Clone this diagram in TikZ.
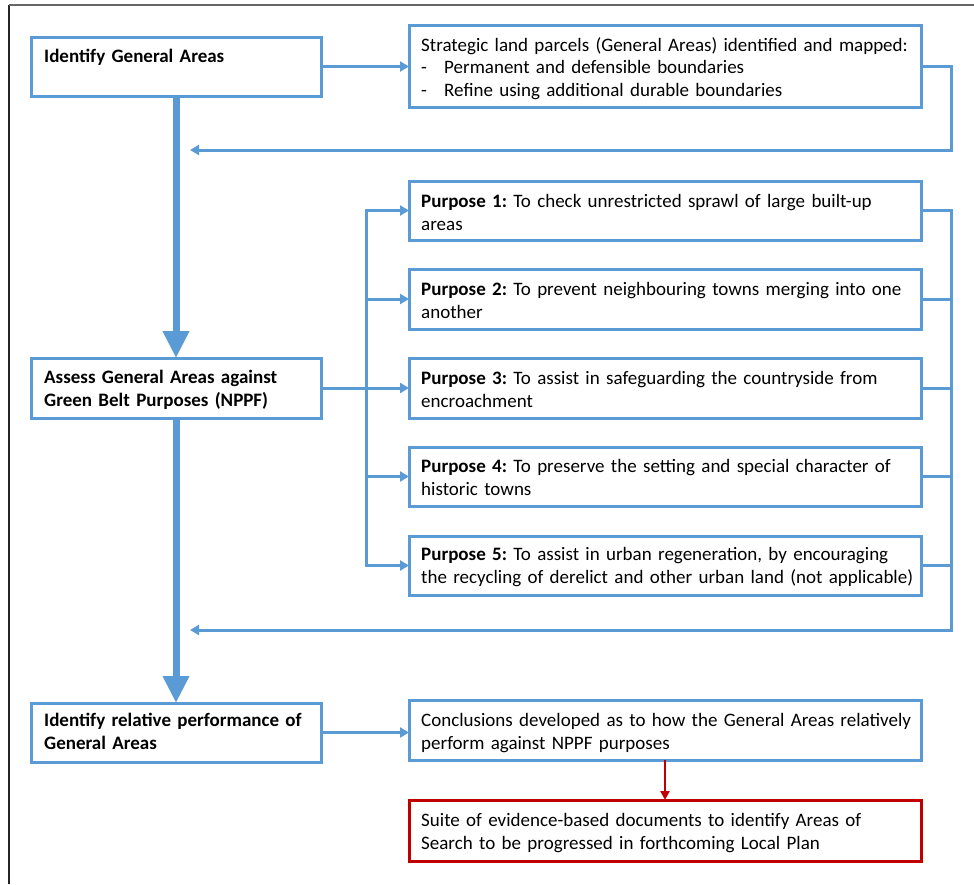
\documentclass[tikz,border=0pt]{standalone}
\usepackage{fontspec}
\setmainfont{Carlito}
\usetikzlibrary{arrows.meta}
\setlength{\parindent}{0pt}
\frenchspacing
\definecolor{bl}{RGB}{91,155,213}
\definecolor{rd}{RGB}{192,0,0}
\tikzset{
 bx/.style={draw=bl, line width=3pt, fill=white, anchor=north west, inner sep=0pt, outer sep=0pt},
 rbx/.style={bx, draw=rd},
 txt/.style={anchor=base west, inner sep=0pt, text width=540pt, align=left, font=\fontsize{19}{23}\selectfont\frenchspacing},
 conn/.style={draw=bl, line width=3pt, -{Triangle[length=9pt,width=10pt]}},
 rconn/.style={draw=rd, line width=2.5pt, -{Triangle[length=9pt,width=9pt]}},
 bus/.style={draw=bl, line width=3pt, line cap=rect},
 big/.style={draw=bl, line width=7pt, -{Triangle[length=27pt,width=25pt]}},
}
\begin{document}
\begin{tikzpicture}[x=1pt,y=-1pt]
\useasboundingbox (0,0) rectangle (974,884);
\fill[white] (0,0) rectangle (974,884);
\draw[black!85, line width=1.5pt] (9,884) -- (9,5);
\draw[black!60, line width=1.2pt] (9,5) -- (974,5);
% boxes
\node[bx, minimum width=290pt, minimum height=59pt] (A) at (31,37) {};
\node[bx, minimum width=512pt, minimum height=82pt] (B) at (409,25) {};
\node[bx, minimum width=512pt, minimum height=59pt] (P1) at (409,181) {};
\node[bx, minimum width=512pt, minimum height=60pt] (P2) at (409,269) {};
\node[bx, minimum width=512pt, minimum height=60pt] (P3) at (409,358) {};
\node[bx, minimum width=512pt, minimum height=59pt] (P4) at (409,447) {};
\node[bx, minimum width=512pt, minimum height=59pt] (P5) at (409,536) {};
\node[bx, minimum width=290pt, minimum height=60pt] (C) at (31,358) {};
\node[bx, minimum width=290pt, minimum height=59pt] (D) at (31,703) {};
\node[bx, minimum width=512pt, minimum height=60pt] (E) at (409,700) {};
\node[rbx, minimum width=512pt, minimum height=61pt] (F) at (409,800) {};
% texts
\node[txt] (tA) at (44,62) {\bfseries Identify General Areas};
\node[txt, font=\fontsize{19}{22.5}\selectfont\frenchspacing] (tB) at (421,51) {Strategic land parcels (General Areas) identified and mapped:\\\makebox[23pt][l]{-}Permanent and defensible boundaries\\\makebox[23pt][l]{-}Refine using additional durable boundaries};
\node[txt] (t1) at (421,207) {{\bfseries Purpose 1:} To check unrestricted sprawl of large built-up\\areas};
\node[txt] (t2) at (421,295) {{\bfseries Purpose 2:} To prevent neighbouring towns merging into one\\another};
\node[txt] (t3) at (421,384) {{\bfseries Purpose 3:} To assist in safeguarding the countryside from\\encroachment};
\node[txt] (t4) at (421,472) {{\bfseries Purpose 4:} To preserve the setting and special character of\\historic towns};
\node[txt] (t5) at (421,560) {{\bfseries Purpose 5:} To assist in urban regeneration, by encouraging\\the recycling of derelict and other urban land (not applicable)};
\node[txt] (tC) at (44,383) {\bfseries Assess General Areas against\\Green Belt Purposes (NPPF)};
\node[txt] (tD) at (44,726) {\bfseries Identify relative performance of\\General Areas};
\node[txt] (tE) at (421,726) {Conclusions developed as to how the General Areas relatively\\perform against NPPF purposes};
\node[txt] (tF) at (421,826) {Suite of evidence-based documents to identify Areas of\\Search to be progressed in forthcoming Local Plan};
% coordinates
\coordinate (bxL) at (366,0);
\coordinate (bxR) at (951,0);
\coordinate (R1) at (951,150);
\coordinate (L1) at (190,150);
\coordinate (L2) at (190,630);
% connectors
\draw[conn] (A.east) -- (A.east -| B.west);
\draw[conn] (B.east) -| (R1) -- (L1);
\draw[big] (A.south) -- (C.north);
\draw[bus] (P1.west -| bxL) -- (P5.west -| bxL);
\draw[conn] (P1.west -| bxL) -- (P1.west);
\draw[conn] (P2.west -| bxL) -- (P2.west);
\draw[conn] (C.east) -- (P3.west);
\draw[conn] (P4.west -| bxL) -- (P4.west);
\draw[conn] (P5.west -| bxL) -- (P5.west);
\draw[bus] (P1.east) -- (P1.east -| bxR);
\draw[bus] (P2.east) -- (P2.east -| bxR);
\draw[bus] (P3.east) -- (P3.east -| bxR);
\draw[bus] (P4.east) -- (P4.east -| bxR);
\draw[bus] (P5.east) -- (P5.east -| bxR);
\draw[conn] (P1.east -| bxR) |- (L2);
\draw[big] (C.south) -- (D.north);
\draw[conn] (D.east) -- (D.east -| E.west);
\draw[rconn] (E.south) -- (F.north);
\end{tikzpicture}
\end{document}
